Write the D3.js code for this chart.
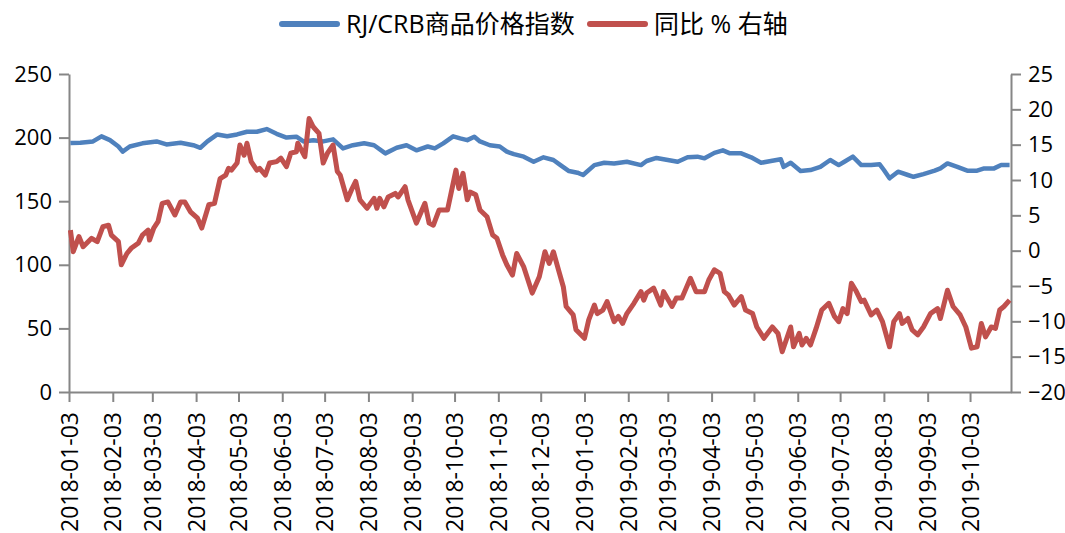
<!DOCTYPE html>
<html>
<head>
<meta charset="utf-8">
<script src="https://cdn.jsdelivr.net/npm/d3@7"></script>
<style>
  body { margin: 0; background: #fff; }
  text { font-family: "Open Sans", "Noto Sans CJK SC", sans-serif; fill: #000; }
</style>
</head>
<body>
<div id="chart"></div>
<script>
// RJ/CRB index (left axis)
const crbDates = ["2018-01-04","2018-01-11","2018-01-20","2018-01-26","2018-02-01","2018-02-07","2018-02-10","2018-02-15","2018-02-24","2018-03-06","2018-03-13","2018-03-23","2018-04-01","2018-04-06","2018-04-11","2018-04-18","2018-04-25","2018-05-02","2018-05-09","2018-05-16","2018-05-23","2018-05-30","2018-06-06","2018-06-13","2018-06-18","2018-06-25","2018-07-02","2018-07-09","2018-07-16","2018-07-23","2018-07-31","2018-08-07","2018-08-15","2018-08-23","2018-08-30","2018-09-06","2018-09-14","2018-09-19","2018-09-25","2018-10-02","2018-10-07","2018-10-12","2018-10-17","2018-10-21","2018-10-28","2018-11-04","2018-11-09","2018-11-14","2018-11-21","2018-11-28","2018-12-05","2018-12-12","2018-12-17","2018-12-23","2018-12-29","2019-01-02","2019-01-10","2019-01-17","2019-01-24","2019-02-02","2019-02-12","2019-02-16","2019-02-23","2019-03-03","2019-03-10","2019-03-17","2019-03-24","2019-03-29","2019-04-05","2019-04-11","2019-04-16","2019-04-24","2019-05-01","2019-05-08","2019-05-15","2019-05-22","2019-05-24","2019-05-29","2019-06-05","2019-06-12","2019-06-19","2019-06-26","2019-07-02","2019-07-06","2019-07-12","2019-07-18","2019-07-25","2019-07-31","2019-08-03","2019-08-07","2019-08-13","2019-08-20","2019-08-24","2019-08-31","2019-09-08","2019-09-12","2019-09-17","2019-09-24","2019-10-01","2019-10-08","2019-10-13","2019-10-20","2019-10-25","2019-10-31"];
const crbValues = [195.7,196,197,201,198,193,189,193,195.5,197,194.6,196,194,192,197,202.5,201,202.5,204.6,204.6,206.7,203,200,200.7,197,198,197,198.6,191.5,194,195.5,194,187.6,192,194,190,193,191.5,195.5,201,199.4,198,200.7,197,194,193,189,187,185,181,184.5,182.4,178.4,173.7,172.4,170.6,178.4,180.2,179.7,181,178.4,181.6,184,182.4,181,184.5,185,183.7,188,190,187.6,187.6,184.5,180.2,181.6,183,177,180.2,173.7,174.5,177,182.4,178.4,181,185,178.4,178.4,179,174.5,168,173.2,170.6,169.2,171.3,174,175.8,179.7,177,174,174,175.8,175.8,178.4,178.4];

// year-on-year change, % (right axis)
const yoyDates = ["2018-01-04","2018-01-06","2018-01-10","2018-01-13","2018-01-19","2018-01-23","2018-01-27","2018-01-31","2018-02-02","2018-02-07","2018-02-09","2018-02-13","2018-02-16","2018-02-21","2018-02-24","2018-02-28","2018-03-01","2018-03-04","2018-03-07","2018-03-10","2018-03-14","2018-03-19","2018-03-23","2018-03-26","2018-03-30","2018-04-04","2018-04-07","2018-04-12","2018-04-16","2018-04-20","2018-04-24","2018-04-26","2018-04-28","2018-05-02","2018-05-04","2018-05-07","2018-05-09","2018-05-12","2018-05-16","2018-05-18","2018-05-22","2018-05-25","2018-05-30","2018-06-02","2018-06-06","2018-06-09","2018-06-13","2018-06-14","2018-06-19","2018-06-22","2018-06-25","2018-06-29","2018-07-02","2018-07-05","2018-07-09","2018-07-12","2018-07-14","2018-07-19","2018-07-22","2018-07-25","2018-07-28","2018-08-02","2018-08-07","2018-08-09","2018-08-11","2018-08-14","2018-08-17","2018-08-22","2018-08-24","2018-08-29","2018-08-31","2018-09-06","2018-09-12","2018-09-15","2018-09-18","2018-09-22","2018-09-28","2018-10-04","2018-10-06","2018-10-09","2018-10-12","2018-10-14","2018-10-18","2018-10-21","2018-10-26","2018-10-30","2018-11-02","2018-11-06","2018-11-09","2018-11-13","2018-11-16","2018-11-21","2018-11-27","2018-12-02","2018-12-06","2018-12-09","2018-12-12","2018-12-16","2018-12-19","2018-12-21","2018-12-26","2018-12-28","2019-01-03","2019-01-06","2019-01-10","2019-01-12","2019-01-16","2019-01-19","2019-01-24","2019-01-27","2019-01-30","2019-02-02","2019-02-07","2019-02-12","2019-02-14","2019-02-16","2019-02-21","2019-02-26","2019-02-28","2019-03-06","2019-03-09","2019-03-13","2019-03-16","2019-03-19","2019-03-23","2019-03-29","2019-04-01","2019-04-05","2019-04-09","2019-04-12","2019-04-15","2019-04-19","2019-04-24","2019-04-27","2019-05-02","2019-05-05","2019-05-10","2019-05-16","2019-05-20","2019-05-23","2019-05-29","2019-05-31","2019-06-04","2019-06-06","2019-06-09","2019-06-12","2019-06-16","2019-06-20","2019-06-25","2019-06-29","2019-07-02","2019-07-05","2019-07-08","2019-07-11","2019-07-14","2019-07-18","2019-07-20","2019-07-25","2019-07-29","2019-08-02","2019-08-07","2019-08-10","2019-08-14","2019-08-16","2019-08-20","2019-08-23","2019-08-27","2019-08-31","2019-09-05","2019-09-10","2019-09-12","2019-09-17","2019-09-21","2019-09-26","2019-09-30","2019-10-04","2019-10-08","2019-10-11","2019-10-14","2019-10-18","2019-10-21","2019-10-24","2019-10-27","2019-10-31"];
const yoyValues = [2.9,-0.15,2.0,0.56,1.75,1.27,3.4,3.6,2.2,1.27,-2.0,-0.4,0.33,1.04,2.2,2.9,1.5,3.2,4.1,6.7,6.9,5.05,6.9,6.9,5.5,4.6,3.2,6.5,6.7,10.2,10.7,11.65,11.4,12.4,14.95,13.5,15.2,12.6,11.4,11.65,10.7,12.4,12.6,13.1,11.9,13.8,14.0,15.2,13.3,18.7,17.5,16.6,12.4,13.8,14.95,11.2,10.7,7.2,8.6,9.8,7.2,6.0,7.4,6.0,7.4,6.2,7.6,8.1,7.6,9.05,7.2,3.9,6.7,3.9,3.6,5.75,5.75,11.4,8.8,10.95,7.2,8.3,7.9,5.75,4.8,2.2,1.75,-0.6,-2.0,-3.45,-0.4,-2.3,-6.0,-3.7,-0.15,-1.8,-0.15,-3.0,-5.1,-7.9,-9.1,-11.2,-12.4,-9.8,-7.7,-8.9,-8.4,-7.2,-10.05,-9.3,-10.3,-8.9,-7.45,-5.8,-7.0,-6.0,-5.3,-7.7,-5.8,-7.9,-6.7,-6.7,-5.3,-3.9,-5.8,-5.8,-4.15,-2.7,-3.2,-5.8,-6.3,-7.7,-6.5,-8.4,-8.9,-10.8,-12.4,-10.8,-11.7,-14.3,-10.8,-13.6,-11.7,-13.35,-12.4,-13.35,-11.0,-8.4,-7.45,-9.3,-10.05,-8.2,-8.9,-4.6,-5.6,-7.2,-7.0,-9.1,-8.4,-10.05,-13.6,-10.05,-8.9,-10.3,-9.6,-11.2,-11.9,-10.8,-8.9,-8.2,-9.6,-5.6,-7.9,-9.1,-10.8,-13.8,-13.6,-10.3,-12.2,-10.8,-11.0,-8.4,-7.9,-7.0];

const xTickLabels = ["2018-01-03","2018-02-03","2018-03-03","2018-04-03","2018-05-03","2018-06-03","2018-07-03","2018-08-03","2018-09-03","2018-10-03","2018-11-03","2018-12-03","2019-01-03","2019-02-03","2019-03-03","2019-04-03","2019-05-03","2019-06-03","2019-07-03","2019-08-03","2019-09-03","2019-10-03"];
const leftTicks = [0, 50, 100, 150, 200, 250];
const rightTicks = [-20, -15, -10, -5, 0, 5, 10, 15, 20, 25];
const seriesNames = ["RJ/CRB商品价格指数", "同比 % 右轴"];
const seriesColors = ["#4F81BD", "#C0504D"];

const width = 1065, height = 533;
const margin = { top: 74, right: 54, bottom: 141, left: 69 };
const axisColor = "#868686";
const parse = d3.timeParse("%Y-%m-%d");

const svg = d3.select("#chart").append("svg")
    .attr("width", width)
    .attr("height", height);

const x = d3.scaleTime()
    .domain([parse("2018-01-03"), parse("2019-11-01")])
    .range([margin.left, width - margin.right]);

const yLeft = d3.scaleLinear()
    .domain([0, 250])
    .range([height - margin.bottom, margin.top]);

const yRight = d3.scaleLinear()
    .domain([-20, 25])
    .range([height - margin.bottom, margin.top]);

// Axes
const xAxis = svg.append("g")
    .attr("transform", `translate(0,${height - margin.bottom})`)
    .call(d3.axisBottom(x)
        .tickValues(xTickLabels.map(parse))
        .tickFormat(d3.timeFormat("%Y-%m-%d"))
        .tickSize(10)
        .tickSizeOuter(0));

xAxis.selectAll("text")
    .attr("transform", "rotate(-90)")
    .attr("text-anchor", "end")
    .attr("x", -20)
    .attr("y", 0)
    .attr("dy", "0.35em")
    .style("font-size", "23px");

const leftAxis = svg.append("g")
    .attr("transform", `translate(${margin.left},0)`)
    .call(d3.axisLeft(yLeft).tickValues(leftTicks).tickSize(10).tickPadding(7).tickSizeOuter(0));
leftAxis.selectAll("text").style("font-size", "22px");

const rightAxis = svg.append("g")
    .attr("transform", `translate(${width - margin.right},0)`)
    .call(d3.axisRight(yRight).tickValues(rightTicks).tickSize(10).tickPadding(7).tickSizeOuter(0));
rightAxis.selectAll("text").style("font-size", "22px");

[xAxis, leftAxis, rightAxis].forEach(a => {
    a.select(".domain").attr("stroke", axisColor).attr("stroke-width", 2);
    a.selectAll(".tick line").attr("stroke", axisColor).attr("stroke-width", 2);
});

// Lines
const crbData = crbDates.map((d, i) => [parse(d), crbValues[i]]);
const yoyData = yoyDates.map((d, i) => [parse(d), yoyValues[i]]);

svg.append("path")
    .datum(crbData)
    .attr("fill", "none")
    .attr("stroke", seriesColors[0])
    .attr("stroke-width", 4.5)
    .attr("stroke-linejoin", "round")
    .attr("d", d3.line().x(d => x(d[0])).y(d => yLeft(d[1])));

svg.append("path")
    .datum(yoyData)
    .attr("fill", "none")
    .attr("stroke", seriesColors[1])
    .attr("stroke-width", 5)
    .attr("stroke-linejoin", "round")
    .attr("d", d3.line().x(d => x(d[0])).y(d => yRight(d[1])));

// Legend
const legendItems = [
    { x: 282, name: seriesNames[0], color: seriesColors[0] },
    { x: 590, name: seriesNames[1], color: seriesColors[1] }
];
const legend = svg.append("g");
legendItems.forEach(item => {
    legend.append("line")
        .attr("x1", item.x).attr("x2", item.x + 55)
        .attr("y1", 24).attr("y2", 24)
        .attr("stroke", item.color)
        .attr("stroke-width", 6)
        .attr("stroke-linecap", "round");
    legend.append("text")
        .attr("x", item.x + 64)
        .attr("y", 24)
        .attr("dy", "0.35em")
        .style("font-size", "25px")
        .text(item.name);
});
</script>
</body>
</html>
